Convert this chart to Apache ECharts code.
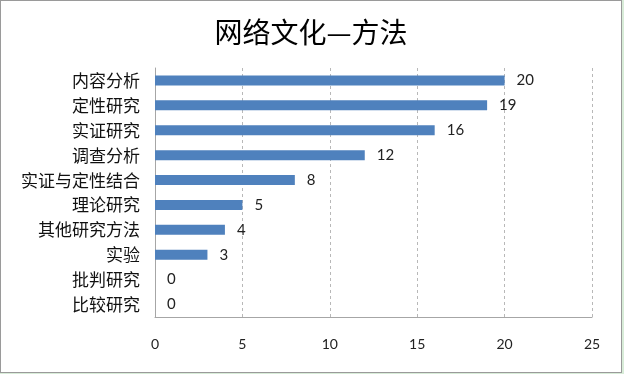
<!DOCTYPE html>
<html><head><meta charset="utf-8">
<script src="https://cdn.jsdelivr.net/npm/echarts@6/dist/echarts.min.js"></script>
<style>
html,body{margin:0;padding:0;background:#fff;}
#wrap{position:absolute;left:0;top:0;width:624px;height:374px;background:#d8ecd8;}
#chart{position:absolute;left:0;top:0;width:620px;height:371px;border:1px solid #9a9a9a;background:#fff;}
</style></head>
<body><div id="wrap"><div id="chart"></div></div>
<script>
const title = '网络文化—方法';
const categories = ['内容分析','定性研究','实证研究','调查分析','实证与定性结合','理论研究','其他研究方法','实验','批判研究','比较研究'];
const values = [20,19,16,12,8,5,4,3,0,0];
const xTicks = [0,5,10,15,20,25];

const chart = echarts.init(document.getElementById('chart'), null, {renderer:'canvas'});
const cjk = "Lato, 'Noto Sans CJK SC', sans-serif";
chart.setOption({
  animation:false,
  title:{text:title,left:'center',top:12,textStyle:{fontFamily:"'Noto Sans CJK SC', sans-serif",fontSize:28,fontWeight:'normal',color:'#000'}},
  grid:{left:154,right:29,top:67,bottom:55,containLabel:false},
  xAxis:{type:'value',min:xTicks[0],max:xTicks[xTicks.length-1],interval:5,
    axisLine:{show:true,lineStyle:{color:'#a6a6a6'}},axisTick:{show:false},
    axisLabel:{margin:20,fontFamily:cjk,fontSize:14,color:'#222'},
    splitLine:{show:true,lineStyle:{color:'#b8b8b8',type:[3,3]}}},
  yAxis:{type:'category',inverse:true,data:categories,
    axisLine:{show:true,lineStyle:{color:'#a6a6a6'}},axisTick:{show:false},
    axisLabel:{margin:15,fontFamily:"'Noto Sans CJK SC', sans-serif",fontSize:17,color:'#111'}},
  series:[{type:'bar',data:values,barWidth:10,
    itemStyle:{color:'#4f81bd'},
    label:{show:true,position:'right',distance:12,fontFamily:cjk,fontSize:15,color:'#222'}}]
});
</script></body></html>
